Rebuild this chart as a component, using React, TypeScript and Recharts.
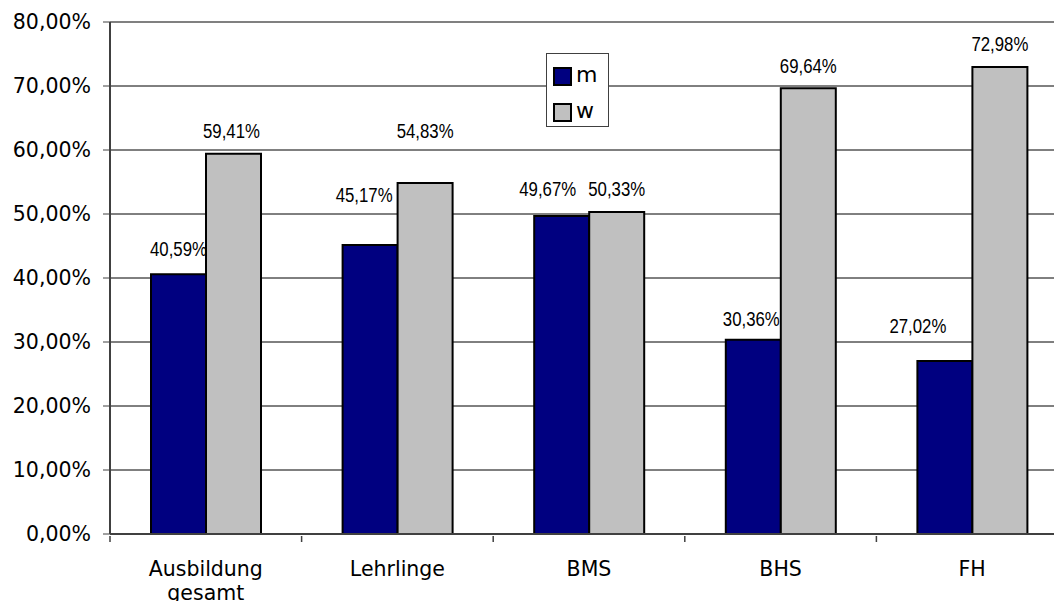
import { BarChart, Bar, XAxis, YAxis, CartesianGrid, LabelList, ReferenceLine } from 'recharts';

const categories = ['Ausbildung gesamt', 'Lehrlinge', 'BMS', 'BHS', 'FH'];
const maleShare = [40.59, 45.17, 49.67, 30.36, 27.02];
const femaleShare = [59.41, 54.83, 50.33, 69.64, 72.98];
const yTicks = [0, 10, 20, 30, 40, 50, 60, 70, 80];

// hand-placed label nudges (px), relative to the default spot above each bar
const maleLabelShift = [
  { dx: 0, dy: 2 }, { dx: -6, dy: 27 }, { dx: -14, dy: 4 }, { dx: -2, dy: -2 }, { dx: -27, dy: 12 },
];
const femaleLabelShift = [
  { dx: -2, dy: 0 }, { dx: 0, dy: 29 }, { dx: 0, dy: 0 }, { dx: 0, dy: -1 }, { dx: 0, dy: 0 },
];

const data = categories.map((name, i) => ({ name, m: maleShare[i], w: femaleShare[i] }));

const CHART_W = 1080;
const MARGIN = { top: 22, right: 12, left: 0, bottom: 0 };
const Y_W = 110;
const STEP = (CHART_W - MARGIN.left - MARGIN.right - Y_W) / categories.length;

const pct = (v: number) => v.toFixed(2).replace('.', ',') + '%';

const axisFont = '"DejaVu Sans", Verdana, sans-serif';

function CategoryTick({ x, y, payload }: any) {
  const lines = String(payload.value).split(' ');
  return (
    <g>
      <line x1={x - STEP / 2} x2={x - STEP / 2} y1={y} y2={y + 6} stroke="#404040" strokeWidth={1.5} />
      <text x={x} y={y + 40} textAnchor="middle" fontFamily={axisFont} fontSize={20.5} fill="#000">
        {lines.map((l, i) => (
          <tspan key={i} x={x} dy={i === 0 ? 0 : 24}>{l}</tspan>
        ))}
      </text>
    </g>
  );
}

// narrow value label above a bar
const valueLabel = (shifts: { dx: number; dy: number }[]) => (props: any) => {
  const { x, y, width, value, index } = props;
  const s = shifts[index] || { dx: 0, dy: 0 };
  const cx = x + width / 2 + s.dx;
  const cy = y - 23 - s.dy;
  return (
    <text
      transform={`translate(${cx},${cy}) scale(0.8,1)`}
      textAnchor="middle"
      dominantBaseline="central"
      fontFamily='"Liberation Sans", Arial, sans-serif'
      fontSize={21}
      fill="#000"
    >
      {pct(value)}
    </text>
  );
};

// legend box drawn over the plot area
function LegendBox() {
  const items = [
    { key: 'm', color: '#000080' },
    { key: 'w', color: '#C0C0C0' },
  ];
  return (
    <div style={{ position: 'absolute', left: 546, top: 53, border: '1px solid #404040', background: '#fff', width: 63, height: 74, boxSizing: 'border-box', padding: '10px 0 0 6px' }}>
      {items.map((it) => (
        <div key={it.key} style={{ display: 'flex', alignItems: 'center', height: 36 }}>
          <span style={{ width: 15, height: 15, background: it.color, border: '2px solid #000', display: 'inline-block', marginTop: -12 }} />
          <span style={{ fontFamily: axisFont, fontSize: 22, marginLeft: 4, lineHeight: '20px', marginTop: -14 }}>{it.key}</span>
        </div>
      ))}
    </div>
  );
}

export default function App() {
  return (
    <div style={{ position: 'absolute', left: 0, top: 0, width: 1054, height: 601, overflow: 'hidden', background: '#fff' }}>
      <BarChart width={CHART_W} height={601} data={data} margin={MARGIN} barGap={0} barCategoryGap={41}>
        <CartesianGrid vertical={false} stroke="#000" strokeWidth={1} />
        <XAxis
          dataKey="name"
          height={67}
          tick={<CategoryTick />}
          tickLine={false}
          tickSize={0}
          interval={0}
          axisLine={{ stroke: '#404040', strokeWidth: 2 }}
        />
        <YAxis
          width={Y_W}
          domain={[0, 80]}
          ticks={yTicks}
          tickFormatter={pct}
          tick={{ fill: '#000', fontSize: 20.5, fontFamily: axisFont }}
          tickSize={7}
          tickMargin={12}
          tickLine={{ stroke: '#404040' }}
          axisLine={{ stroke: '#404040', strokeWidth: 2 }}
        />
        <ReferenceLine y={80} stroke="#808080" strokeWidth={2} />
        <Bar dataKey="m" fill="#000080" stroke="#000" strokeWidth={2} isAnimationActive={false}>
          <LabelList dataKey="m" content={valueLabel(maleLabelShift)} />
        </Bar>
        <Bar dataKey="w" fill="#C0C0C0" stroke="#000" strokeWidth={2} isAnimationActive={false}>
          <LabelList dataKey="w" content={valueLabel(femaleLabelShift)} />
        </Bar>
      </BarChart>
      <LegendBox />
    </div>
  );
}
